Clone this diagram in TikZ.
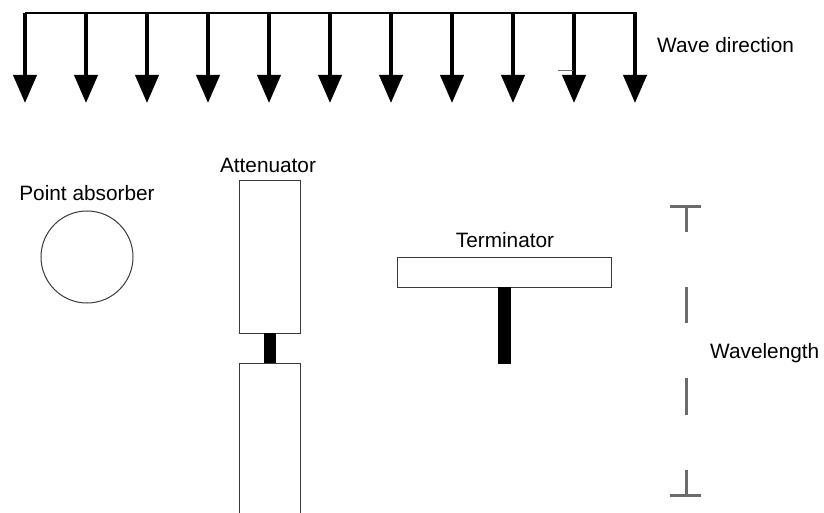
\documentclass[tikz,border=0pt]{standalone}
\usepackage{fontspec}
\setmainfont{Liberation Sans}
\usetikzlibrary{arrows.meta}
\definecolor{edgegrey}{HTML}{3A3A3A}
\definecolor{markgrey}{HTML}{6B6B6B}
\tikzset{
  lbl/.style={inner sep=0pt, font=\fontsize{20.8}{24}\selectfont},
  wavearrow/.style={line width=4pt, -{Triangle[width=23pt,length=28pt]}},
  body/.style={draw=edgegrey, line width=1pt, fill=white},
  bar/.style={fill=black, draw=none},
  wlmark/.style={draw=markgrey, line width=3pt},
}
\begin{document}
\begin{tikzpicture}[x=1pt,y=-1pt]
\useasboundingbox (0,0) rectangle (824,513);
\clip (0,0) rectangle (824,513);
% wave front
\coordinate (wl) at (25,13);
\coordinate (wr) at (637,13);
\draw[line width=2pt] (wl) -- (wr);
\foreach \i in {0,...,10} {
  \coordinate (t\i) at ({25+61*\i},13);
  \coordinate (h\i) at ({25+61*\i},103);
  \draw[wavearrow] (t\i) -- (h\i);
}
\coordinate (s1) at (558,70);
\coordinate (s2) at (573,70);
\draw[markgrey, line width=0.8pt] (s1) -- (s2);
\node[lbl, anchor=west] (wavedir) at (657,45) {Wave direction};
% point absorber
\node[lbl] (pal) at (87,193) {Point absorber};
\node[draw=edgegrey, line width=1pt, circle, minimum size=92pt, inner sep=0pt] (pa) at (87,257) {};
% attenuator
\node[lbl] (attl) at (268,165) {Attenuator};
\draw[body] (239,181) rectangle (300,333);
\draw[bar] (264,333) rectangle (276,363);
\draw[body] (239,363) rectangle (300,530);
% terminator
\node[lbl] (terml) at (505,240) {Terminator};
\draw[body] (397,257) rectangle (611,287);
\draw[bar] (498,287) rectangle (511,364);
% wavelength marker
\draw[wlmark] (670,206) -- (701,206);
\draw[wlmark] (686,206) -- (686,232);
\draw[wlmark] (686,287) -- (686,323);
\draw[wlmark] (686,378) -- (686,415);
\draw[wlmark] (686,470) -- (686,495);
\draw[wlmark] (670,495) -- (701,495);
\node[lbl, anchor=west] (wavelen) at (710,353) {Wavelength};
\end{tikzpicture}
\end{document}
